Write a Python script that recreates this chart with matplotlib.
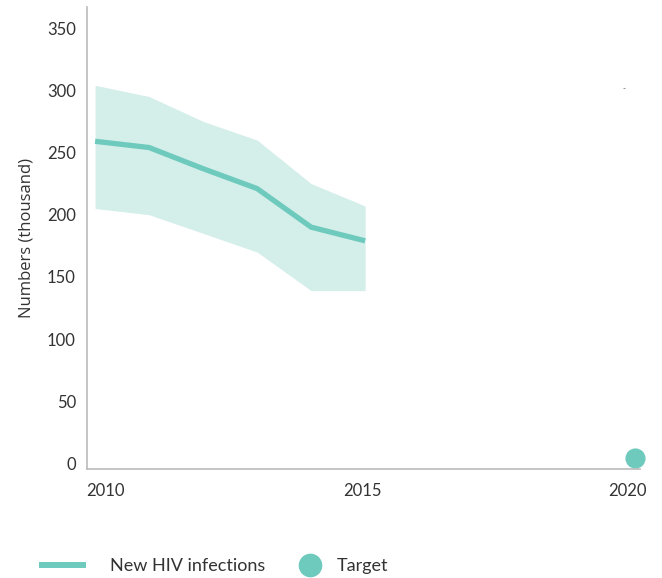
import matplotlib
matplotlib.use("Agg")
import matplotlib.pyplot as plt
import matplotlib.transforms as mtransforms
from matplotlib.lines import Line2D
from matplotlib.legend_handler import HandlerLine2DCompound
import numpy as np

plt.rcParams['font.family'] = ['Lato', 'DejaVu Sans']

years = [2010, 2011, 2012, 2013, 2014, 2015]
new_infections = [259, 254, 237, 221, 190, 179]
upper = [304, 295, 275, 260, 225, 207]
lower = [205, 200, 185, 170, 139, 139]
target_year = [2020]
target_value = [4.5]
yticks = [0, 50, 100, 150, 200, 250, 300, 350]
xticks = [2010, 2015, 2020]

line_color = '#6ecabd'
band_color = '#d4eeea'
text_color = '#333333'


class RightMarkerHandler(HandlerLine2DCompound):
    def get_xdata(self, legend, xdescent, ydescent, width, height, fontsize):
        xdata = np.array([-xdescent, width - xdescent])
        xm = np.array([width - xdescent - 1.5])
        return xdata, xm


fig = plt.figure(figsize=(6.62, 5.78), dpi=100)
ax = fig.add_axes([0.1314, 0.189, 0.8354, 0.799])

ax.fill_between(years, lower, upper, color=band_color, linewidth=0)
ax.plot(years, new_infections, color=line_color, linewidth=3.8, solid_capstyle='butt')
ax.plot(target_year, target_value, 'o', color=line_color, markersize=13.5, clip_on=False)
ax.plot([2019.8], [302], marker='_', color='#999999', markersize=2, markeredgewidth=0.8)

ax.set_xlim(2009.85, 2020.09)
ax.set_ylim(-4.2, 367)
ax.set_yticks(yticks)
ax.set_xticks(xticks)
ax.set_xticklabels([str(x) for x in xticks])
ax.tick_params(axis='both', length=0, labelsize=12, colors=text_color)
ax.tick_params(axis='x', pad=10)
ax.tick_params(axis='y', pad=8)

offsets = [10, -3, -8]
for lab, dx in zip(ax.get_xticklabels(), offsets):
    lab.set_transform(lab.get_transform() + mtransforms.ScaledTranslation(dx / 100, 0, fig.dpi_scale_trans))

for s in ['top', 'right']:
    ax.spines[s].set_visible(False)
for s in ['left', 'bottom']:
    ax.spines[s].set_color('#bbbbbb')
    ax.spines[s].set_linewidth(1.2)

ax.set_ylabel('Numbers (thousand)', fontsize=12, color=text_color, labelpad=9,
              family=['Open Sans', 'DejaVu Sans'])

line_handle = Line2D([], [], color=line_color, linewidth=4.3, solid_capstyle='butt')
target_handle = Line2D([], [], marker='o', linestyle='none', color=line_color, markersize=16)
fig.legend([line_handle, target_handle], ['New HIV infections', 'Target'], loc='center left',
           bbox_to_anchor=(0.035, 0.021), ncol=2, frameon=False,
           prop={'family': ['Lato', 'DejaVu Sans'], 'size': 13},
           labelcolor=text_color, handlelength=2.6, handletextpad=1.33, columnspacing=0.0,
           handler_map={target_handle: RightMarkerHandler(numpoints=1)})

fig.savefig('out.png', dpi=100)
